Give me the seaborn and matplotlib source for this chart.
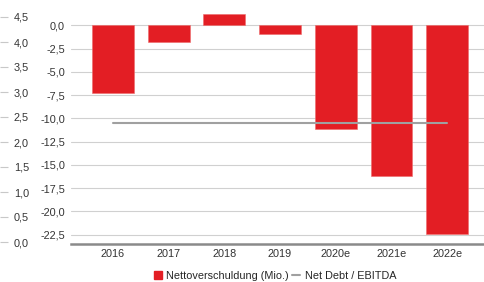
import numpy as np
import seaborn as sns
import matplotlib.pyplot as plt
from matplotlib.patches import Patch
from matplotlib.lines import Line2D

# --- DATA ---
years = ['2016', '2017', '2018', '2019', '2020e', '2021e', '2022e']
net_debt = [-7.25, -1.75, 1.2, -0.95, -11.2, -16.2, -22.4]
debt_ebitda = [2.38, 2.38, 2.38, 2.38, 2.38, 2.38, 2.38]
left_ticks = [0.0, 0.5, 1.0, 1.5, 2.0, 2.5, 3.0, 3.5, 4.0, 4.5]
bar_ticks = [0.0, -2.5, -5.0, -7.5, -10.0, -12.5, -15.0, -17.5, -20.0, -22.5]

RED = '#e31e24'
GREY_LINE = '#a0a0a0'
TXT = '#333333'
FS = 7.8

sns.set_theme(style='white')
plt.rcParams['font.family'] = ['Liberation Sans', 'DejaVu Sans']

fig = plt.figure(figsize=(4.85, 2.82), dpi=100)
ax = fig.add_axes([71 / 485, 38 / 282, 414 / 485, 232 / 282])

# bars: Nettoverschuldung
sns.barplot(x=years, y=net_debt, color=RED, saturation=1, width=0.75,
            edgecolor='#ee6a6a', linewidth=0.4, ax=ax, zorder=3)
ax.set_xlim(-0.754, 6.68)
ax.set_ylim(-23.52, 1.43)
ax.set_yticks(bar_ticks)
ax.set_yticklabels([f'{t:.1f}'.replace('.', ',') for t in bar_ticks])
ax.yaxis.grid(True, color='#d0d0d0', linewidth=0.8)
ax.set_axisbelow(True)
ax.tick_params(axis='y', length=0, pad=4.3, labelsize=FS, labelcolor=TXT)
ax.tick_params(axis='x', length=0, pad=3.5, labelsize=FS, labelcolor=TXT)
for s in ['top', 'right', 'left']:
    ax.spines[s].set_visible(False)
ax.spines['bottom'].set_color('#8a8a8a')
ax.spines['bottom'].set_linewidth(1.8)
ax.set_xlabel('')
ax.set_ylabel('')

# line: Net Debt / EBITDA on a separate scale at the far left
ax2 = ax.twinx()
sns.lineplot(x=np.arange(len(years)), y=debt_ebitda, color=GREY_LINE,
             linewidth=1.5, ax=ax2, zorder=4)
ax2.set_ylim(-0.04, 4.6)
ax2.set_yticks(left_ticks)
ax2.set_yticklabels([f'{t:.1f}'.replace('.', ',') for t in left_ticks])
ax2.spines['right'].set_position(('axes', -71 / 414))
ax2.tick_params(axis='y', direction='out', length=6, width=0.8,
                color='#c8c8c8', pad=4.0, labelsize=FS, labelcolor=TXT)
for s in ['top', 'right', 'left', 'bottom']:
    ax2.spines[s].set_visible(False)
ax2.set_ylabel('')

handles = [Patch(facecolor=RED, edgecolor=RED),
           Line2D([0], [0], color=GREY_LINE, linewidth=1.5)]
labels = ['Nettoverschuldung (Mio.)', 'Net Debt / EBITDA']
fig.legend(handles, labels, loc='center', bbox_to_anchor=(275 / 485, 1 - 276 / 282),
           ncol=2, frameon=False, handlelength=0.75, handleheight=0.75,
           handletextpad=0.4, columnspacing=0.3, fontsize=7.8)

fig.savefig('out.png', dpi=100)
